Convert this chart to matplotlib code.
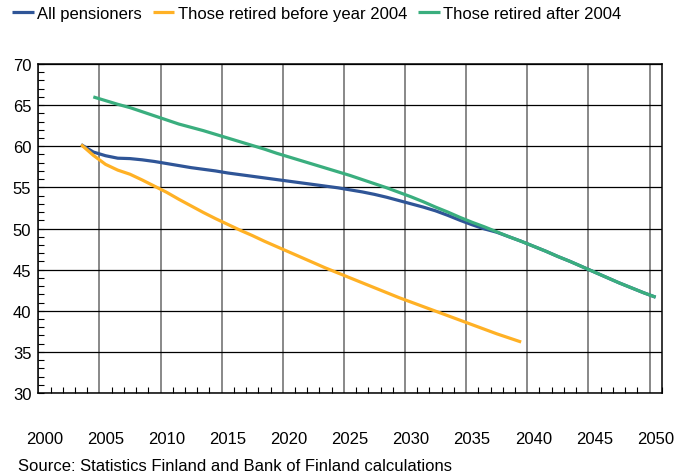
import numpy as np
import matplotlib
matplotlib.use('Agg')
import matplotlib.pyplot as plt
from matplotlib.ticker import MultipleLocator
from matplotlib.transforms import ScaledTranslation

plt.rcParams['font.family'] = ['Liberation Sans', 'DejaVu Sans']

# data
years_all = list(range(2003, 2051))
all_pensioners = [60.2, 59.3, 58.85, 58.55, 58.5, 58.35, 58.15, 57.9, 57.65, 57.4,
                  57.2, 57.0, 56.75, 56.55, 56.35, 56.15, 55.95, 55.75, 55.55, 55.35,
                  55.15, 54.95, 54.7, 54.45, 54.15, 53.8, 53.4, 53.0, 52.6, 52.15,
                  51.6, 51.0, 50.45, 49.95, 49.55, 49.0, 48.45, 47.85, 47.25, 46.6,
                  46.0, 45.35, 44.7, 44.05, 43.4, 42.8, 42.2, 41.65]

years_before = list(range(2003, 2040))
retired_before = [60.2, 58.9, 57.8, 57.1, 56.6, 55.9, 55.15, 54.4, 53.55, 52.75,
                  51.95, 51.2, 50.5, 49.8, 49.15, 48.45, 47.8, 47.15, 46.5, 45.85,
                  45.2, 44.6, 44.0, 43.4, 42.8, 42.2, 41.6, 41.05, 40.5, 39.95,
                  39.4, 38.85, 38.3, 37.75, 37.2, 36.7, 36.2]

years_after = list(range(2004, 2051))
retired_after = [66.0, 65.55, 65.1, 64.7, 64.2, 63.7, 63.2, 62.7, 62.3, 61.9,
                 61.45, 61.0, 60.55, 60.1, 59.65, 59.15, 58.7, 58.25, 57.8, 57.35,
                 56.9, 56.45, 55.95, 55.45, 54.95, 54.4, 53.85, 53.25, 52.6, 52.0,
                 51.35, 50.75, 50.2, 49.6, 49.0, 48.45, 47.85, 47.25, 46.6, 46.0,
                 45.35, 44.7, 44.05, 43.4, 42.8, 42.2, 41.65]

labels = ['All pensioners', 'Those retired before year 2004', 'Those retired after 2004']
colors = ['#2f5597', '#ffb125', '#3aae7e']
xtick_labels = [str(y) for y in range(2000, 2051, 5)]

FS = 12

fig = plt.figure(figsize=(6.78, 4.77), dpi=100)
ax = fig.add_axes([0.0565, 0.174, 0.9195, 0.6897])

# points sit in the middle of each year's category
ax.plot(np.array(years_all) + 0.5, all_pensioners, color=colors[0], lw=2.3,
        label=labels[0], solid_capstyle='butt', zorder=3)
ax.plot(np.array(years_before) + 0.5, retired_before, color=colors[1], lw=2.3,
        label=labels[1], solid_capstyle='butt', zorder=3)
ax.plot(np.array(years_after) + 0.5, retired_after, color=colors[2], lw=2.3,
        label=labels[2], solid_capstyle='butt', zorder=4)

ax.set_xlim(2000, 2051)
ax.set_ylim(30, 70)

ax.set_xticks(range(2000, 2051, 5))
ax.set_xticklabels(xtick_labels)
ax.xaxis.set_minor_locator(MultipleLocator(1))
ax.set_yticks(range(30, 71, 5))
ax.yaxis.set_minor_locator(MultipleLocator(1))

ax.tick_params(axis='x', which='major', length=0, pad=27, labelsize=FS)
ax.tick_params(axis='x', which='minor', direction='in', length=4, width=0.8)
ax.tick_params(axis='y', which='major', direction='in', length=4, width=0.8,
               pad=5, labelsize=FS)
ax.tick_params(axis='y', which='minor', direction='in', length=4, width=0.8)

# shift year labels half a category to the right
for lab in ax.get_xticklabels():
    lab.set_transform(lab.get_transform() + ScaledTranslation(6 / 100, 0, fig.dpi_scale_trans))

ax.grid(axis='y', which='major', color='black', lw=0.9, zorder=1)
ax.grid(axis='x', which='major', color='#7f7f7f', lw=1.3, zorder=1)
ax.set_axisbelow(True)
for sp in ax.spines.values():
    sp.set_color('black')
    sp.set_linewidth(1.1)

fig.legend(loc='upper left', bbox_to_anchor=(0.013, 0.992), ncol=3, frameon=False,
           fontsize=FS, handlelength=1.3, handletextpad=0.2, columnspacing=0.65,
           borderaxespad=0, borderpad=0.2)

fig.text(0.027, 0.006, 'Source: Statistics Finland and Bank of Finland calculations',
         fontsize=FS, ha='left', va='bottom')

fig.savefig('out.png', dpi=100)
